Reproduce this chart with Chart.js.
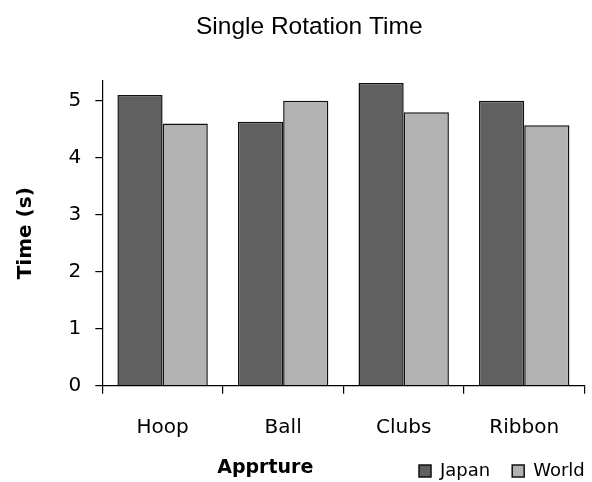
<!DOCTYPE html>
<html>
<head>
<title>Single Rotation Time</title>
<script src="https://cdn.jsdelivr.net/npm/chart.js"></script>
<style>
  body { margin: 0; background: #fff; }
  #wrap { width: 592px; height: 482px; position: relative; }
</style>
</head>
<body>
  <div id="wrap">
    <canvas id="rotChart"></canvas>
  </div>

  <script>
    // Data
    const apparatus = ["Hoop", "Ball", "Clubs", "Ribbon"];
    const japan = [5.10, 4.63, 5.31, 5.00];
    const world = [4.60, 5.00, 4.80, 4.57];
    const yTicks = [0, 1, 2, 3, 4, 5];

    const chartTitle = "Single Rotation Time";
    const xTitle = "Apprture";
    const yTitle = "Time (s)";

    // Excel-style placement: move title, x title and legend into their spots
    const placeBoxes = {
      id: 'placeBoxes',
      afterLayout(chart) {
        const t = chart.titleBlock;
        t.left += 17; t.right += 17;

        const sub = chart.boxes.find(b => b !== t && b.options && b.options.text === xTitle);
        if (sub) { sub.left -= 27; sub.right -= 27; }

        // legend sits on the same row as the x title
        const lg = chart.legend;
        lg.left = 397; lg.right = 640;
        lg.top = 440; lg.bottom = 482; lg.height = 42;
        lg.width = lg.right - lg.left;
      }
    };

    const ctx = document.getElementById("rotChart").getContext("2d");

    new Chart(ctx, {
      type: "bar",
      data: {
        labels: apparatus,
        datasets: [
          {
            label: "Japan",
            data: japan,
            backgroundColor: "#606060",
            borderColor: "#111",
            borderWidth: 1.5
          },
          {
            label: "World",
            data: world,
            backgroundColor: "#b2b2b2",
            borderColor: "#111",
            borderWidth: 1.5
          }
        ]
      },
      plugins: [placeBoxes],
      options: {
        responsive: true,
        maintainAspectRatio: false,
        animation: false,
        categoryPercentage: 0.75,
        barPercentage: 1,
        layout: { padding: { left: 0, right: 7.5, top: 0, bottom: 0 } },
        plugins: {
          title: {
            display: true,
            text: chartTitle,
            color: "#000",
            font: { family: "'Liberation Sans', Arial", size: 24.5, weight: "normal" },
            padding: { top: 13, bottom: 38.4 }
          },
          subtitle: {
            display: true,
            position: "bottom",
            text: xTitle,
            color: "#000",
            font: { family: "'DejaVu Sans'", size: 19, weight: "bold" },
            padding: { top: 16, bottom: 2.5 }
          },
          legend: {
            position: "bottom",
            align: "start",
            maxHeight: 1,
            labels: {
              color: "#000",
              boxWidth: 12,
              boxHeight: 12,
              padding: 22,
              font: { family: "'DejaVu Sans'", size: 18 }
            }
          },
          tooltip: { enabled: false }
        },
        scales: {
          x: {
            offset: true,
            afterFit: (scale) => { scale.height -= 22; },
            grid: {
              offset: true,
              drawOnChartArea: false,
              tickLength: 8,
              color: "#000",
              lineWidth: 1.2
            },
            border: { color: "#000", width: 1.2 },
            ticks: {
              color: "#000",
              padding: 22,
              font: { family: "'DejaVu Sans'", size: 20 }
            }
          },
          y: {
            min: 0,
            max: 5.35,
            afterBuildTicks: (axis) => {
              axis.ticks = yTicks.map(v => ({ value: v }));
            },
            afterFit: (scale) => { scale.width -= 14; },
            grid: {
              drawOnChartArea: false,
              tickLength: 7,
              color: "#000",
              lineWidth: 1.2
            },
            border: { color: "#000", width: 1.2 },
            ticks: {
              color: "#000",
              padding: 14,
              font: { family: "'DejaVu Sans'", size: 20 }
            },
            title: {
              display: true,
              text: yTitle,
              color: "#000",
              font: { family: "'DejaVu Sans'", size: 20, weight: "bold" },
              padding: { top: 14, bottom: 30.6 }
            }
          }
        }
      }
    });
  </script>
</body>
</html>
